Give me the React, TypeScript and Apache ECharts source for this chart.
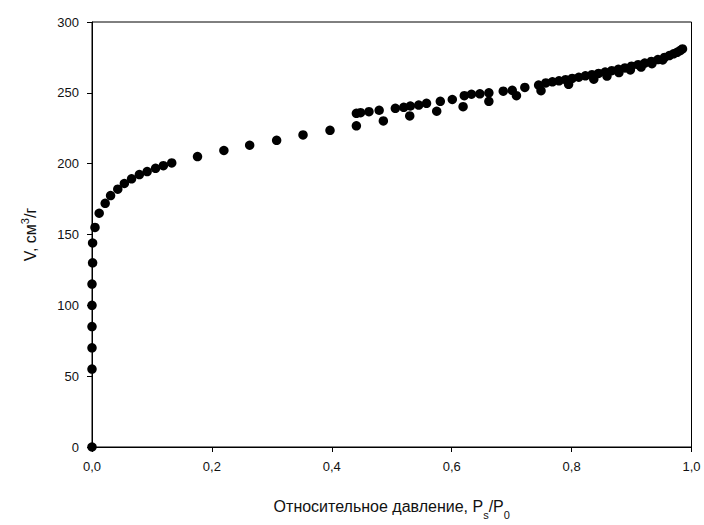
import React, { useEffect, useRef } from "react";
import * as echarts from "echarts";

// Relative pressure (Ps/P0) and adsorbed volume (cm3/g)
const adsorptionP = [
  0, 0, 0, 0, 0, 0, 0.001, 0.001, 0.005, 0.012, 0.022, 0.031, 0.043, 0.054, 0.066,
  0.079, 0.092, 0.106, 0.119, 0.133, 0.176, 0.22, 0.263, 0.308, 0.352, 0.397,
  0.441, 0.448, 0.462, 0.479, 0.506, 0.52, 0.531, 0.545, 0.558, 0.581, 0.601,
  0.621, 0.633, 0.647, 0.662, 0.686, 0.701, 0.722, 0.745, 0.757, 0.768, 0.779,
  0.79, 0.801, 0.812, 0.823, 0.834, 0.845, 0.856, 0.867, 0.878, 0.889, 0.9,
  0.911, 0.922, 0.933, 0.944, 0.955, 0.963, 0.97, 0.976, 0.981, 0.985,
];
const adsorptionV = [
  0, 55, 70, 85, 100, 115, 130, 144, 155, 165, 172, 177.5, 182, 186, 189.3,
  192.3, 194.4, 196.7, 198.6, 200.5, 205, 209.3, 213, 216.5, 220.3, 223.5,
  235.5, 236, 236.7, 237.7, 239.1, 239.8, 240.7, 241.4, 242.6, 244, 245.3,
  248, 249, 249.3, 250, 251.2, 251.8, 253.8, 255.5, 257, 257.8, 258.5,
  259.3, 260.2, 261, 262, 262.8, 263.7, 264.7, 265.6, 266.6, 267.6, 268.8,
  269.9, 271, 272.2, 273.5, 275, 276.3, 277.5, 278.6, 279.8, 281,
];
const desorptionP = [
  0.441, 0.486, 0.53, 0.575, 0.619, 0.662, 0.708, 0.749, 0.795, 0.837, 0.859,
  0.879, 0.898, 0.916, 0.934, 0.952,
];
const desorptionV = [
  226.7, 230.2, 233.7, 237, 240.2, 244, 248, 251.5, 256, 259.6, 261.8,
  264.3, 266.2, 268.2, 270.6, 273.2,
];
const xTicks = ["0,0", "0,2", "0,4", "0,6", "0,8", "1,0"];

export default function App() {
  const ref = useRef<HTMLDivElement>(null);
  useEffect(() => {
    if (!ref.current) return;
    const chart = echarts.init(ref.current, null, { renderer: "svg" });
    const font = "'Liberation Sans', Arial, sans-serif";
    const points = [
      ...adsorptionP.map((p, i) => [p, adsorptionV[i]]),
      ...desorptionP.map((p, i) => [p, desorptionV[i]]),
    ];
    chart.setOption({
      animation: false,
      backgroundColor: "#fff",
      grid: {
        left: 92,
        right: 12.5,
        top: 22,
        bottom: 73,
        show: true,
        borderColor: "#000",
        borderWidth: 1,
        backgroundColor: "transparent",
      },
      xAxis: {
        type: "value",
        min: 0,
        max: 1,
        interval: 0.2,
        splitLine: { show: false },
        axisLine: { onZero: false, lineStyle: { color: "#000", width: 1 } },
        axisTick: { inside: false, length: 5, lineStyle: { color: "#000" } },
        axisLabel: {
          margin: 13,
          color: "#111",
          fontFamily: font,
          fontSize: 13,
          formatter: (v: number) => xTicks[Math.round(v / 0.2)] ?? "",
        },
        name: "Относительное давление, P{sub|s}/P{sub|0}",
        nameLocation: "middle",
        nameGap: 51,
        nameTextStyle: {
          color: "#111",
          fontFamily: font,
          fontSize: 16,
          rich: {
            sub: {
              fontFamily: font,
              fontSize: 11,
              color: "#111",
              verticalAlign: "bottom",
              padding: [0, 0, -6, 0],
            },
          },
        },
      },
      yAxis: {
        type: "value",
        min: 0,
        max: 300,
        interval: 50,
        splitLine: { show: false },
        axisLine: { onZero: false, lineStyle: { color: "#000", width: 1 } },
        axisTick: { inside: false, length: 5, lineStyle: { color: "#000" } },
        axisLabel: {
          margin: 13,
          color: "#111",
          fontFamily: font,
          fontSize: 13,
        },
        name: "V, см{sup|3}/г",
        nameLocation: "middle",
        nameGap: 54,
        nameRotate: 90,
        nameTextStyle: {
          color: "#111",
          fontFamily: font,
          fontSize: 16,
          rich: {
            sup: {
              fontFamily: font,
              fontSize: 11,
              color: "#111",
              verticalAlign: "top",
              padding: [-3, 0, 0, 0],
            },
          },
        },
      },
      series: [
        {
          type: "scatter",
          data: points,
          symbol: "circle",
          symbolSize: 9.5,
          itemStyle: { color: "#000", opacity: 1 },
        },
      ],
    });
    return () => chart.dispose();
  }, []);
  return (
    <div
      ref={ref}
      style={{ position: "absolute", left: 0, top: 0, width: 704, height: 525 }}
    />
  );
}
